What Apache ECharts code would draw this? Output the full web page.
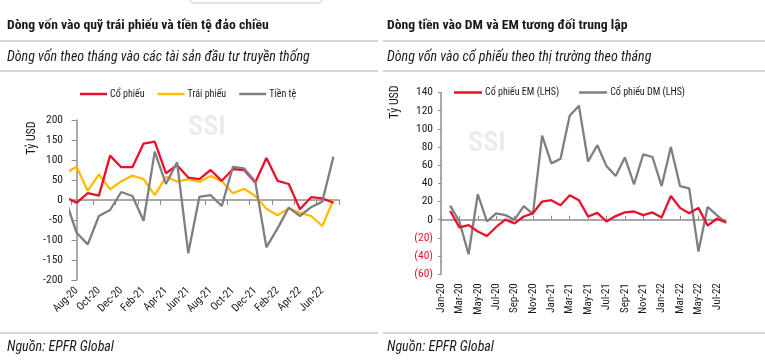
<!DOCTYPE html>
<html><head><meta charset="utf-8">
<script src="https://cdn.jsdelivr.net/npm/echarts@6/dist/echarts.min.js"></script>
<style>html,body{margin:0;padding:0;background:#fff}#c{width:765px;height:364px}</style>
</head><body><div id="c"></div>
<script>
// ---- Left chart data (monthly flows, bn USD); Jul-20 lies just left of the axis and is clipped
const leftMonths = ['Jul-20','Aug-20','Sep-20','Oct-20','Nov-20','Dec-20','Jan-21','Feb-21','Mar-21','Apr-21','May-21','Jun-21','Jul-21','Aug-21','Sep-21','Oct-21','Nov-21','Dec-21','Jan-22','Feb-22','Mar-22','Apr-22','May-22','Jun-22','Jul-22'];
const leftStocks = [7, -7, 17, 11, 111, 82, 82, 141, 146, 67, 87, 56, 52, 75, 48, 77, 75, 44, 105, 48, 40, -23, 7, 4, -7];
const leftBonds  = [67, 83, 23, 64, 27, 47, 61, 52, 12, 58, 46, 52, 45, 60, 47, 17, 28, 10, -22, -38, -21, -32, -40, -65, 0];
const leftMoney  = [2, -82, -111, -40, -25, 20, 10, -52, 121, 40, 94, -133, 8, 12, -15, 83, 79, 46, -118, -71, -19, -40, -18, -4, 108];
const leftTicks  = [-200, -150, -100, -50, 0, 50, 100, 150, 200];
const leftNames  = ['Cổ phiếu', 'Trái phiếu', 'Tiền tệ'];

// ---- Right chart data
const rightMonths = ['Jan-20','Feb-20','Mar-20','Apr-20','May-20','Jun-20','Jul-20','Aug-20','Sep-20','Oct-20','Nov-20','Dec-20','Jan-21','Feb-21','Mar-21','Apr-21','May-21','Jun-21','Jul-21','Aug-21','Sep-21','Oct-21','Nov-21','Dec-21','Jan-22','Feb-22','Mar-22','Apr-22','May-22','Jun-22','Jul-22','Aug-22'];
const rightEM = [null, 9.5, -8.5, -6, -13, -18, -8, 0, -4, 3.5, 7, 20, 21.5, 16, 27, 21.5, 3.5, 7.5, -2, 4, 8, 9, 5, 8, 2.5, 26, 13, 7, 13, -6.5, 1, -3];
const rightDM = [null, 15.5, -2, -38, 28, -2, 7, 5, 0, 15, 6.5, 92.5, 62, 67, 114.5, 125.5, 64, 82, 59, 48, 68.5, 39, 72, 69, 37, 80, 37, 34.5, -35, 14, 5, -3.5];
const rightTicks = [-60, -40, -20, 0, 20, 40, 60, 80, 100, 120, 140];
const rightNames = ['Cổ phiếu EM (LHS)', 'Cổ phiếu DM (LHS)'];

const FONT = "'Roboto Condensed','DejaVu Sans Condensed',sans-serif";
const RED = '#e8112d', YEL = '#ffbb00', GRY = '#7f7f7f', AX = '#8c8c8c', TXT = '#1a1a1a';

const chart = echarts.init(document.getElementById('c'), null, {renderer: 'canvas'});

const leftLabelCats = leftMonths.slice(1);
const idx = (arr) => arr.map((v, i) => [i - 1, v]);

function txt(text, x, y, font, extra) {
  return Object.assign({type: 'text', x: x, y: y, style: {text: text, font: font, fill: TXT, verticalAlign: 'middle', align: 'left'}}, extra || {});
}
function hline(x1, x2, y) {
  return {type: 'line', shape: {x1: x1, y1: y, x2: x2, y2: y}, style: {stroke: '#c8c8c8', lineWidth: 1.5}};
}

const option = {
  animation: false,
  backgroundColor: '#fff',
  textStyle: {fontFamily: FONT},
  grid: [
    {left: 71, top: 120, width: 268, height: 160},
    {left: 441, top: 92.5, width: 285, height: 181.7}
  ],
  legend: [
    {data: leftNames, left: 80, top: 89, padding: 0, icon: 'rect', itemWidth: 27, itemHeight: 2.5, itemGap: 13,
     textStyle: {fontFamily: FONT, fontSize: 10, color: TXT, padding: [0, 0, 0, -2]}},
    {data: rightNames, left: 454, top: 87.5, padding: 0, icon: 'rect', itemWidth: 28, itemHeight: 2.5, itemGap: 20,
     textStyle: {fontFamily: FONT, fontSize: 10, color: TXT, padding: [0, 0, 0, -2]}}
  ],
  xAxis: [
    {type: 'category', gridIndex: 0, data: leftLabelCats, boundaryGap: true, position: 'bottom',
     axisLine: {show: false, onZero: false}, axisTick: {show: false},
     axisLabel: {interval: 1, rotate: 45, margin: 9, fontFamily: FONT, fontSize: 11, color: TXT}},
    {type: 'category', gridIndex: 0, data: leftLabelCats, boundaryGap: true,
     axisLine: {show: true, onZero: true, lineStyle: {color: AX, width: 1.5}},
     axisTick: {show: true, inside: true, interval: 1, length: 5, lineStyle: {color: AX, width: 1}},
     axisLabel: {show: false}},
    {type: 'value', gridIndex: 0, min: -0.5, max: 23.5, show: false},
    {type: 'category', gridIndex: 1, data: rightMonths, boundaryGap: false, position: 'bottom',
     axisLine: {show: false, onZero: false}, axisTick: {show: false},
     axisLabel: {interval: 1, rotate: 90, margin: 9, fontFamily: FONT, fontSize: 11, color: TXT}},
    {type: 'category', gridIndex: 1, data: rightMonths, boundaryGap: false,
     axisLine: {show: true, onZero: true, lineStyle: {color: AX, width: 1.5}},
     axisTick: {show: true, inside: false, interval: 1, length: 4, lineStyle: {color: AX, width: 1}},
     axisLabel: {show: false}}
  ],
  yAxis: [
    {type: 'value', gridIndex: 0, min: leftTicks[0], max: leftTicks[leftTicks.length - 1], interval: 50,
     axisLine: {show: true, lineStyle: {color: AX, width: 1.5}},
     axisTick: {show: true, length: 5, lineStyle: {color: AX, width: 1}},
     splitLine: {show: false},
     axisLabel: {margin: 8, fontFamily: FONT, fontSize: 11.5, color: TXT}},
    {type: 'value', gridIndex: 1, min: rightTicks[0], max: rightTicks[rightTicks.length - 1], interval: 20,
     axisLine: {show: true, lineStyle: {color: AX, width: 1.5}},
     axisTick: {show: true, length: 3, lineStyle: {color: AX, width: 1}},
     splitLine: {show: false},
     axisLabel: {margin: 8, fontFamily: FONT, fontSize: 11.5,
       formatter: (v) => v < 0 ? '(' + (-v) + ')' : String(v),
       color: (v) => Number(v) < 0 ? RED : TXT}}
  ],
  series: [
    {name: leftNames[0], type: 'line', xAxisIndex: 2, yAxisIndex: 0, data: idx(leftStocks), showSymbol: false, symbol: 'none',
     lineStyle: {color: RED, width: 2.3}, itemStyle: {color: RED}, z: 4},
    {name: leftNames[1], type: 'line', xAxisIndex: 2, yAxisIndex: 0, data: idx(leftBonds), showSymbol: false, symbol: 'none',
     lineStyle: {color: YEL, width: 2.3}, itemStyle: {color: YEL}, z: 3},
    {name: leftNames[2], type: 'line', xAxisIndex: 2, yAxisIndex: 0, data: idx(leftMoney), showSymbol: false, symbol: 'none',
     lineStyle: {color: GRY, width: 2.3}, itemStyle: {color: GRY}, z: 5},
    {name: rightNames[0], type: 'line', xAxisIndex: 4, yAxisIndex: 1, data: rightEM, showSymbol: false, symbol: 'none',
     lineStyle: {color: RED, width: 2.3}, itemStyle: {color: RED}, z: 4},
    {name: rightNames[1], type: 'line', xAxisIndex: 4, yAxisIndex: 1, data: rightDM, showSymbol: false, symbol: 'none',
     lineStyle: {color: GRY, width: 2.3}, itemStyle: {color: GRY}, z: 3}
  ],
  graphic: [
    {type: 'rect', shape: {x: 190, y: -12, width: 132, height: 15, r: 4}, style: {fill: '#fff', stroke: '#c8c8c8', lineWidth: 1}},
    txt('Dòng vốn vào quỹ trái phiếu và tiền tệ đảo chiều', 7, 26, 'bold 13.7px ' + FONT),
    txt('Dòng tiền vào DM và EM tương đối trung lập', 387, 26, 'bold 13.7px ' + FONT),
    hline(0, 378, 41), hline(383, 765, 41),
    txt('Dòng vốn theo tháng vào các tài sản đầu tư truyền thống', 7, 57, 'italic 14px ' + FONT),
    txt('Dòng vốn vào cổ phiếu theo thị trường theo tháng', 387, 57, 'italic 14px ' + FONT),
    hline(0, 378, 71), hline(383, 765, 71),
    hline(0, 378, 333), hline(383, 765, 333),
    txt('Nguồn: EPFR Global', 7, 347, 'italic 14px ' + FONT),
    txt('Nguồn: EPFR Global', 387, 347, 'italic 14px ' + FONT),
    {type: 'text', x: 32, y: 138, rotation: Math.PI / 2, style: {text: 'Tỷ USD', font: '12px ' + FONT, fill: TXT, align: 'center', verticalAlign: 'middle'}},
    {type: 'text', x: 395, y: 102, rotation: Math.PI / 2, style: {text: 'Tỷ USD', font: '12px ' + FONT, fill: TXT, align: 'center', verticalAlign: 'middle'}},
    {type: 'text', x: 207, y: 128, z: 1, style: {text: 'SSI', font: 'bold 28px ' + FONT, fill: '#ececec', align: 'center', verticalAlign: 'middle'}},
    {type: 'text', x: 487, y: 144, z: 1, style: {text: 'SSI', font: 'bold 28px ' + FONT, fill: '#ececec', align: 'center', verticalAlign: 'middle'}}
  ]
};
chart.setOption(option);
</script></body></html>
